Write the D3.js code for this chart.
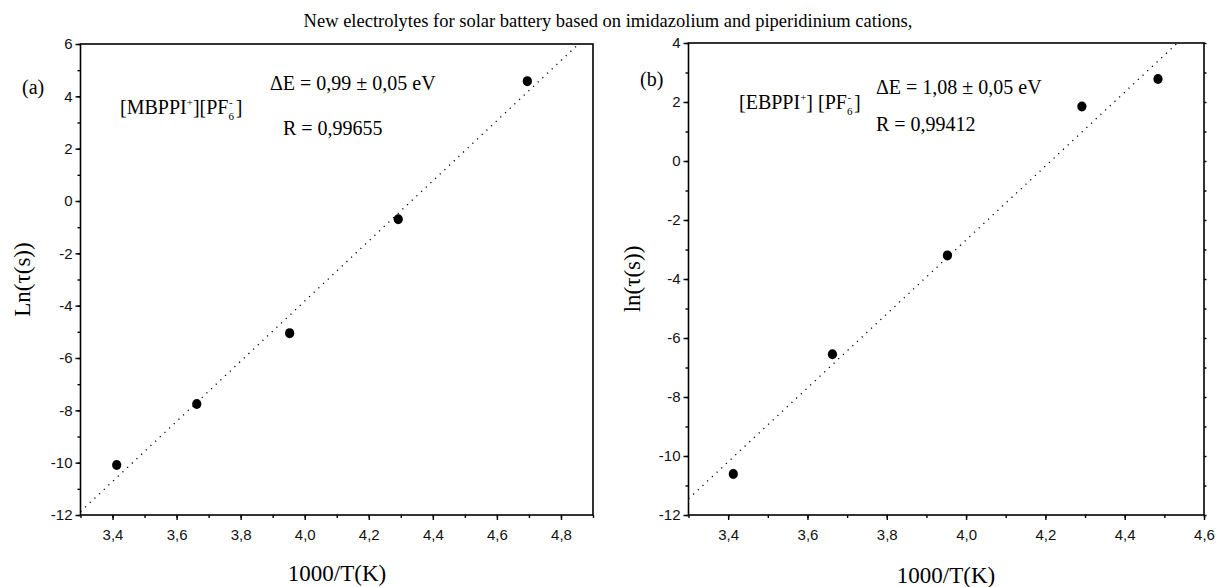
<!DOCTYPE html>
<html lang="en">
<head>
    <meta charset="UTF-8">
    <title>Arrhenius plots</title>
    <script src="https://cdn.jsdelivr.net/npm/d3@7"></script>
    <style>
        body { margin: 0; background: #fff; }
        .tick text { font-family: "Liberation Sans", Arial, sans-serif; font-size: 15px; fill: #111; }
    </style>
</head>
<body>
<script>

    // data
    var invT = [3.413, 3.663, 3.953, 4.292, 4.695];
    var lnTauA = [-10.09, -7.76, -5.05, -0.70, 4.58];

    var invTB = [3.413, 3.663, 3.953, 4.292, 4.484];
    var lnTauB = [-10.61, -6.55, -3.20, 1.85, 2.78];

    // end points of the dotted linear fits
    var fitXA = [3.3, 4.855];
    var fitYA = [-11.87, 6];
    var fitXB = [3.3, 4.533];
    var fitYB = [-11.45, 4];

    var xTicksA = [3.4, 3.6, 3.8, 4.0, 4.2, 4.4, 4.6, 4.8];
    var xTicksB = [3.4, 3.6, 3.8, 4.0, 4.2, 4.4, 4.6];
    var yTicksA = [6, 4, 2, 0, -2, -4, -6, -8, -10, -12];
    var yTicksB = [4, 2, 0, -2, -4, -6, -8, -10, -12];

    var title = "New electrolytes for solar battery based on imidazolium and piperidinium cations,";

    var W = 1216, H = 587;
    var serif = "'Liberation Serif', 'Times New Roman', serif";
    var comma = function(d) { return d3.format(".1f")(d).replace(".", ","); };
    var intFmt = function(d) { return String(d); };

    var svg = d3.select("body")
            .append("svg")
            .attr("width", W)
            .attr("height", H);

    svg.append("text")
            .attr("x", 608).attr("y", 27)
            .attr("text-anchor", "middle")
            .style("font-family", serif)
            .style("font-size", "18.5px")
            .text(title);

    function panel(opt) {
        var x = d3.scaleLinear().domain(opt.xDom).range([opt.left, opt.right]);
        var y = d3.scaleLinear().domain(opt.yDom).range([515, opt.top]);
        var g = svg.append("g");

        // minor ticks
        var xMinor = d3.range(opt.xDom[0], opt.xDom[1] + 0.001, 0.1);
        g.append("g").attr("transform", "translate(0,515)")
                .call(d3.axisBottom(x).tickValues(xMinor).tickSize(3).tickFormat(""))
                .call(function(s) { s.select(".domain").remove(); });
        var yMinor = d3.range(opt.yDom[0], opt.yDom[1] + 0.001, 1);
        g.append("g").attr("transform", "translate(" + opt.left + ",0)")
                .call(d3.axisLeft(y).tickValues(yMinor).tickSize(3).tickFormat(""))
                .call(function(s) { s.select(".domain").remove(); });
        if (opt.rightTicks) {
            g.append("g").attr("transform", "translate(" + opt.right + ",0)")
                    .call(d3.axisLeft(y).tickValues(yMinor).tickSize(-2.5).tickFormat(""))
                    .call(function(s) { s.select(".domain").remove(); });
        }

        // major ticks + labels
        g.append("g").attr("transform", "translate(0,515)")
                .call(d3.axisBottom(x).tickValues(opt.xTicks).tickSize(5).tickPadding(9).tickFormat(comma))
                .call(function(s) { s.select(".domain").remove(); });
        g.append("g").attr("transform", "translate(" + opt.left + ",0)")
                .call(d3.axisLeft(y).tickValues(opt.yTicks).tickSize(5).tickPadding(3).tickFormat(intFmt))
                .call(function(s) { s.select(".domain").remove(); });

        g.selectAll(".tick line").attr("stroke", "#000").attr("stroke-width", 1.4);

        // frame
        g.append("rect")
                .attr("x", opt.left).attr("y", opt.top)
                .attr("width", opt.right - opt.left).attr("height", 515 - opt.top)
                .attr("fill", "none").attr("stroke", "#000").attr("stroke-width", 1.6);

        // fit line
        var fit = opt.fitX.map(function(d, i) { return [d, opt.fitY[i]]; });
        g.append("path")
                .datum(fit)
                .attr("d", d3.line().x(function(d) { return x(d[0]); }).y(function(d) { return y(d[1]); }))
                .attr("fill", "none").attr("stroke", "#000")
                .attr("stroke-width", 1.3).attr("stroke-dasharray", "1.2,5.2");

        // points
        g.selectAll(".pt")
                .data(opt.xs.map(function(d, i) { return [d, opt.ys[i]]; }))
                .enter().append("ellipse").attr("class", "pt")
                .attr("cx", function(d) { return x(d[0]); })
                .attr("cy", function(d) { return y(d[1]); })
                .attr("rx", 4.6).attr("ry", 5)
                .attr("fill", "#000");

        // axis titles
        g.append("text")
                .attr("transform", "translate(" + opt.yTitleX + "," + (opt.top + 515) / 2 + ") rotate(-90)")
                .attr("text-anchor", "middle")
                .style("font-family", serif).style("font-size", "23px")
                .text(opt.yTitle);
        g.append("text")
                .attr("x", opt.xTitleX).attr("y", opt.xTitleY)
                .attr("text-anchor", "middle")
                .style("font-family", serif).style("font-size", "23px")
                .text("1000/T(K)");

        // annotations
        var f = function(sel) { return sel.style("font-family", serif).style("font-size", "20px"); };
        g.append("text").attr("x", opt.tagX).attr("y", opt.tagY).text(opt.tag).call(f);
        g.append("text").attr("x", opt.eX).attr("y", opt.eY).text(opt.eText).call(f);
        g.append("text").attr("x", opt.rX).attr("y", opt.rY).text(opt.rText).call(f);

        var s = g.append("text").attr("x", opt.sX).attr("y", opt.sY).call(f);
        s.append("tspan").text("[" + opt.cation);
        s.append("tspan").attr("dy", -8).style("font-size", "11px").text("+");
        s.append("tspan").attr("dy", 8).text("]" + opt.gap + "[PF");
        s.append("tspan").attr("dy", 6).style("font-size", "11px").text("6");
        s.append("tspan").attr("dy", -14).attr("dx", -5).style("font-size", "11px").text("-");
        s.append("tspan").attr("dy", 8).attr("dx", 3).text("]");
    }

    panel({
        left: 80.5, right: 593, top: 44, xDom: [3.3, 4.9], yDom: [-12, 6],
        xTicks: xTicksA, yTicks: yTicksA, xs: invT, ys: lnTauA,
        fitX: fitXA, fitY: fitYA, rightTicks: false,
        yTitle: "Ln(\u03c4(s))", yTitleX: 30, xTitleX: 337, xTitleY: 581,
        tag: "(a)", tagX: 22, tagY: 94,
        eText: "\u0394E = 0,99 \u00b1 0,05 eV", eX: 270, eY: 90,
        rText: "R = 0,99655", rX: 283, rY: 135,
        cation: "MBPPI", gap: "", sX: 120, sY: 114
    });

    panel({
        left: 688.5, right: 1204, top: 43, xDom: [3.3, 4.6], yDom: [-12, 4],
        xTicks: xTicksB, yTicks: yTicksB, xs: invTB, ys: lnTauB,
        fitX: fitXB, fitY: fitYB, rightTicks: true,
        yTitle: "ln(\u03c4(s))", yTitleX: 640, xTitleX: 946, xTitleY: 583,
        tag: "(b)", tagX: 640, tagY: 86,
        eText: "\u0394E = 1,08 \u00b1 0,05 eV", eX: 876, eY: 94,
        rText: "R = 0,99412", rX: 876, rY: 131,
        cation: "EBPPI", gap: " ", sX: 739, sY: 109
    });

</script>
</body>
</html>
